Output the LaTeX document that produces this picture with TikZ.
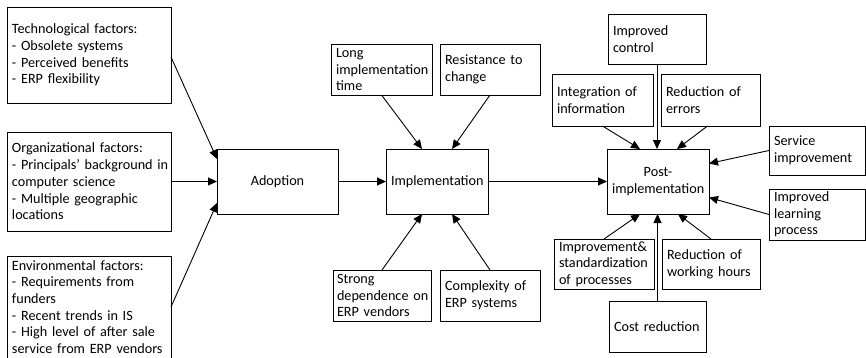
\documentclass[tikz,border=0pt]{standalone}
\usepackage{fontspec}
\setmainfont{Carlito}
\usetikzlibrary{arrows.meta}
\hyphenpenalty=10000
\exhyphenpenalty=10000
\begin{document}
\begin{tikzpicture}[x=1pt,y=-1pt,
  box/.style={draw, line width=1pt, anchor=north west, inner xsep=5pt, inner ysep=1pt, outer sep=0pt,
    align=left, font=\fontsize{14.2}{16.7}\selectfont},
  cbox/.style={box, align=center},
  arr/.style={-{Triangle[length=9pt,width=8pt]}, line width=0.9pt}]
\useasboundingbox (0,0) rectangle (866,357);
% left factors
\node[box, text width=154pt, minimum height=96pt] (tech) at (7,7)
  {Technological factors:\\- Obsolete systems\\- Perceived benefits\\- ERP flexibility};
\node[box, text width=154pt, minimum height=99pt] (org) at (7,132)
  {Organizational factors:\\\mbox{- Principals’ background in}\\computer science\\- Multiple geographic\\locations};
\node[box, text width=154pt, minimum height=102pt] (env) at (7,256)
  {Environmental factors:\\- Requirements from\\funders\\- Recent trends in IS\\- High level of after~sale\\service from ERP~vendors};
% main stages
\node[cbox, text width=111pt, minimum height=65pt] (adopt) at (217,149) {Adoption};
\node[cbox, text width=92pt, minimum height=65pt] (impl) at (386,149) {Implementation};
\node[cbox, text width=92pt, minimum height=65pt] (post) at (607,149) {Post-\\implementation};
% implementation factors
\node[box, text width=91pt, minimum height=51pt] (long) at (331,44) {Long\\implementation\\time};
\node[box, text width=90pt, minimum height=51pt] (res) at (440,44) {Resistance~to\\change};
\node[box, inner xsep=4pt, text width=90pt, minimum height=51pt] (strong) at (333,270) {Strong\\dependence~on\\ERP vendors};
\node[box, text width=90pt, minimum height=51pt] (cplx) at (440,270) {Complexity~of\\ERP systems};
% post-implementation outcomes
\node[box, text width=88pt, minimum height=50pt] (ctrl) at (608,14) {Improved\\control};
\node[box, text width=91pt, minimum height=52pt] (integ) at (552,74) {Integration~of\\information};
\node[box, text width=89pt, minimum height=52pt] (err) at (661,74) {Reduction~of\\errors};
\node[box, text width=86pt, minimum height=49pt] (serv) at (769,126) {Service\\improvement};
\node[box, text width=86pt, minimum height=51pt] (learn) at (769,189) {Improved\\learning\\process};
\node[box, text width=90pt, minimum height=50pt] (impr) at (554,239) {Improvement\&\\standardization\\of processes};
\node[box, text width=88pt, minimum height=50pt] (work) at (662,239) {Reduction~of\\working~hours};
\node[box, text width=87pt, minimum height=51pt] (cost) at (609,301) {Cost reduction};
% connectors
\draw[arr] ([yshift=-2pt]tech.east) -- ([yshift=-10pt]adopt.north west);
\draw[arr] (org.east) -- (org.east -| adopt.west);
\draw[arr] (env.east) -- ([yshift=11pt]adopt.south west);
\draw[arr] (adopt.east) -- (impl.west);
\draw[arr] (impl.east) -- (post.west);
\draw[arr] (long.south) -- ([xshift=-15pt]impl.north);
\draw[arr] (res.south) -- ([xshift=15pt]impl.north);
\draw[arr] (strong.north) -- ([xshift=-15pt]impl.south);
\draw[arr] (cplx.north) -- ([xshift=15pt]impl.south);
\draw[arr] (ctrl.south) -- (ctrl.south |- post.north);
\draw[arr] (integ.south) -- ([xshift=-18pt]post.north);
\draw[arr] ([xshift=-3pt]err.south) -- ([xshift=19pt]post.north);
\draw[arr] (serv.west) -- ([yshift=18pt]post.east);
\draw[arr] (learn.west) -- ([yshift=-16pt]post.east);
\draw[arr] (impr.north) -- ([xshift=-18pt]post.south);
\draw[arr] (work.north) -- ([xshift=20pt]post.south);
\draw[arr] (cost.north) -- (cost.north |- post.south);
\end{tikzpicture}
\end{document}
